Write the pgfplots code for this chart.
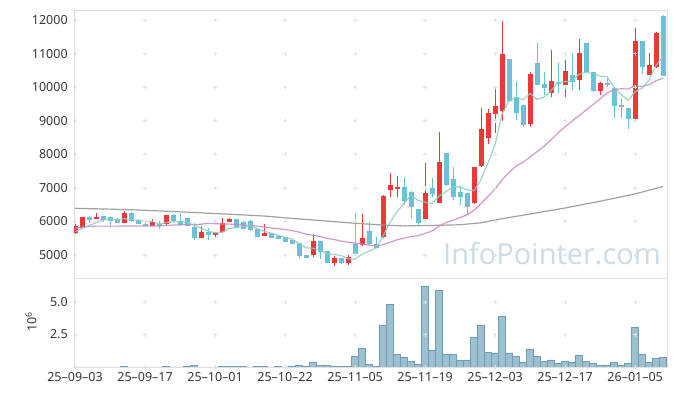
\documentclass[border=0pt]{standalone}
\usepackage{fontspec}
\setmainfont{Noto Sans}
\newfontfamily\wmfont{Open Sans}
\usepackage{pgfplots}
\usepackage{pgfplotstable}
\pgfplotsset{compat=1.18}

\definecolor{cUp}{RGB}{238,56,56}
\definecolor{cDn}{RGB}{108,193,215}
\definecolor{cMAa}{RGB}{140,204,192}
\definecolor{cMAb}{RGB}{200,135,196}
\definecolor{cMAc}{RGB}{150,150,150}
\definecolor{cVol}{RGB}{152,189,206}
\definecolor{cVolE}{RGB}{112,157,182}
\definecolor{cAxis}{RGB}{224,224,224}
\definecolor{cGrid}{RGB}{226,226,226}
\definecolor{cWm}{RGB}{204,219,229}
\definecolor{cTxt}{RGB}{55,55,55}

% up (red) candles: i open high low close
\pgfplotstableread{
i o h l c
0 5645 5913 5615 5863
1 5794 6142 5794 6122
3 6072 6241 6072 6132
7 5963 6310 5963 6241
11 5863 6062 5863 5993
13 5913 6191 5893 6191
18 5516 5873 5516 5675
20 5595 5675 5546 5645
21 5675 6092 5645 5943
22 5993 6092 5993 6072
27 5576 5913 5576 5665
34 4999 5615 4950 5417
37 4751 4970 4672 4900
39 4771 4999 4702 4950
41 5297 6221 5278 5516
44 5546 6780 5496 6757
45 6936 7452 6717 7085
46 6975 7353 6737 7035
50 6062 7750 6022 6836
52 6558 8673 6538 7760
57 6538 7631 6518 7631
58 7661 9388 7631 8753
59 8495 9349 8306 9219
60 9200 9964 8644 9438
61 9299 11980 9001 10987
65 8902 10461 8803 10391
68 9815 11106 9716 10183
70 10064 10809 9696 10481
72 10213 11424 9915 11007
75 9895 10163 9766 10114
80 9051 11752 8972 11374
82 10362 11027 10362 10660
83 10610 11653 10560 11603
}\upT

% down (blue) candles
\pgfplotstableread{
i o h l c
2 6132 6171 5953 6052
4 6161 6161 5993 6052
5 6132 6142 5873 6012
6 6072 6092 5943 5963
8 6241 6271 5993 6012
9 6042 6062 5913 5913
10 5923 6012 5863 5863
12 5913 6012 5764 5863
14 6191 6211 5993 6012
15 6012 6241 5873 5893
16 6092 6092 5873 5873
17 5844 5943 5446 5516
19 5695 5794 5446 5595
23 6072 6072 5794 5814
24 5993 6012 5764 5764
25 6012 6042 5714 5744
26 5764 5764 5546 5546
28 5665 5665 5516 5516
29 5566 5566 5476 5476
30 5526 5526 5397 5397
31 5446 5446 5317 5317
32 5347 5347 4900 4980
33 4999 4999 4900 4900
35 5417 5417 4880 5099
36 5119 5119 4751 4751
38 4900 4920 4722 4751
40 5327 6241 4980 5019
42 5714 5993 5297 5327
43 5317 5546 5198 5218
47 7015 7313 6489 6618
48 6886 6920 6092 6419
49 6360 6360 5893 5963
51 6986 7283 6737 6817
53 8028 8028 7055 7085
54 7254 7631 6638 6717
55 6886 7055 6489 6737
56 6836 6836 6221 6419
62 10828 10828 9567 9597
63 9696 10193 9021 9220
64 9468 9468 8823 8872
66 10729 11305 10064 10064
67 10094 10461 9766 9984
69 10163 10729 9815 10094
71 10362 11007 9915 10163
73 11325 11325 10461 10461
74 10461 10461 9865 9895
76 10114 10263 10015 10054
77 9964 10014 9071 9438
78 9468 9666 9071 9398
79 9369 9369 8753 9041
81 11374 11374 10400 10590
84 12119 12150 10332 10332
}\dnT

% moving averages
\pgfplotstableread{
i a b
0 5695 5800
1 5790 5830
2 5880 5850
3 5960 5860
4 6044 5860
5 6074 5860
6 6042 5860
7 6080 5862
8 6056 5862
9 6028 5862
10 5998 5862
11 6004 5865
12 5929 5862
13 5965 5880
14 5984 5890
15 5990 5895
16 5966 5900
17 5897 5902
18 5794 5915
19 5710 5942
20 5661 5931
21 5675 5922
22 5786 5923
23 5814 5907
24 5848 5893
25 5867 5879
26 5788 5858
27 5707 5830
28 5647 5805
29 5589 5783
30 5520 5760
31 5474 5726
32 5337 5682
33 5214 5617
34 5202 5587
35 5143 5548
36 5029 5492
37 5013 5461
38 4984 5415
39 4890 5382
40 4874 5351
41 5027 5330
42 5113 5292
43 5206 5263
44 5567 5312
45 5981 5379
46 6284 5454
47 6543 5501
48 6783 5547
49 6624 5571
50 6574 5643
51 6531 5718
52 6759 5857
53 6892 5966
54 7043 6031
55 7023 6113
56 6944 6196
57 6918 6333
58 7251 6533
59 7752 6747
60 8292 6968
61 9206 7241
62 9599 7455
63 9692 7655
64 9623 7760
65 9813 7926
66 9629 8077
67 9706 8245
68 9899 8434
69 10143 8640
70 10161 8822
71 10181 8990
72 10386 9152
73 10441 9321
74 10401 9480
75 10328 9649
76 10306 9830
77 9992 9921
78 9780 9953
79 9609 9944
80 9861 10041
81 9968 10021
82 10213 10074
83 10654 10193
84 10912 10266
}\maT

\pgfplotstableread{
i v
0 6390
5 6365
9 6340
15 6285
22 6215
27 6160
31 6090
36 6010
40 5945
44 5890
47 5865
51 5880
55 5900
58 5960
61 6080
65 6220
70 6400
75 6600
80 6820
84 7040
}\mcT

% volume (millions)
\pgfplotstableread{
i v
0 0.01
1 0.01
2 0.01
3 0.01
4 0.01
5 0.01
6 0.01
7 0.06
8 0.01
9 0.01
10 0.01
11 0.01
12 0.01
13 0.06
14 0.01
15 0.01
16 0.06
17 0.13
18 0.01
19 0.01
20 0.01
21 0.05
22 0.05
23 0.05
24 0.05
25 0.01
26 0.05
27 0.05
28 0.01
29 0.05
30 0.01
31 0.05
32 0.13
33 0.05
34 0.36
35 0.15
36 0.15
37 0.05
38 0.05
39 0.05
40 0.84
41 1.43
42 0.20
43 0.05
44 3.20
45 4.84
46 0.97
47 0.74
48 0.44
49 0.20
50 6.22
51 1.30
52 5.91
53 0.97
54 0.97
55 0.54
56 0.54
57 2.28
58 3.20
59 1.15
60 1.08
61 3.92
62 1.08
63 0.79
64 0.38
65 1.36
66 0.84
67 0.46
68 0.54
69 0.28
70 0.46
71 0.38
72 0.92
73 0.46
74 0.28
75 0.13
76 0.13
77 0.38
78 0.15
79 0.28
80 3.05
81 0.97
82 0.38
83 0.69
84 0.74
}\volT

\pgfplotsset{
  base/.style={
    scale only axis, anchor=south west, width=593pt,
    xmin=-0.15, xmax=84.55,
    axis line style={cAxis, line width=0.8pt},
    major tick length=0pt, tick style={draw=none},
    xtick={0,10,...,80},
    tick label style={font=\fontsize{12.5}{14}\selectfont, text=cTxt},
    yticklabel style={xshift=-2.8pt, /pgf/number format/1000 sep={}},
    xticklabel style={yshift=-2pt},
    /pgf/number format/assume math mode=true,
    scaled y ticks=false,
  },
  candle/.style n args={2}{mark=none, draw=none, forget plot,
    error bars/.cd, y dir=plus, y explicit, error mark=none,
    error bar style={draw=#1, line width=#2}},
}

\begin{document}
\begin{tikzpicture}
\path[use as bounding box] (0,0) rectangle (677pt,396pt);
\node[anchor=base west, inner sep=0, font=\wmfont\fontsize{29}{29}\selectfont, text=cWm] at (443pt,131pt) {InfoPointer.com};

% price panel
\begin{axis}[base, at={(74pt,118pt)}, height=268pt,
  ymin=4314, ymax=12298, ytick={5000,6000,...,12000},
  xticklabels={}]
\pgfplotsinvokeforeach{0,10,...,80}{
  \addplot[only marks, mark=+, mark size=2pt, cGrid, forget plot]
    coordinates {(#1,5000) (#1,6000) (#1,7000) (#1,8000) (#1,9000) (#1,10000) (#1,11000) (#1,12000)};
}
% wicks
\addplot[candle={cUp}{1pt}] table[x=i, y=l, y error expr=\thisrow{h}-\thisrow{l}] {\upT};
\addplot[candle={cDn}{1pt}] table[x=i, y=l, y error expr=\thisrow{h}-\thisrow{l}] {\dnT};
% bodies
\addplot[candle={cUp}{5pt}] table[x=i, y=o, y error expr=\thisrow{c}-\thisrow{o}] {\upT};
\addplot[candle={cDn}{5pt}] table[x=i, y=c, y error expr=\thisrow{o}-\thisrow{c}] {\dnT};
% moving averages
\addplot[cMAc, line width=1.2pt, opacity=0.9, mark=none] table[x=i, y=v] {\mcT};
\addplot[cMAb, line width=1.2pt, opacity=0.85, mark=none] table[x=i, y=b] {\maT};
\addplot[cMAa, line width=1.2pt, opacity=0.85, mark=none] table[x=i, y=a] {\maT};
\end{axis}

% volume panel
\begin{axis}[base, at={(74pt,29pt)}, height=89pt,
  ymin=0, ymax=6.85, ytick={2.5,5}, yticklabels={2.5,5.0},
  xticklabels={25–09–03,25–09–17,25–10–01,25–10–22,25–11–05,25–11–19,25–12–03,25–12–17,26–01–05}]
\pgfplotsinvokeforeach{0,10,...,80}{
  \addplot[only marks, mark=+, mark size=2pt, cGrid, forget plot]
    coordinates {(#1,0) (#1,2.5) (#1,5)};
}
\addplot[ybar, bar width=1, fill=cVol, draw=cVolE, line width=0.6pt, fill opacity=0.95] table[x=i, y=v] {\volT};
\end{axis}
\node[rotate=90, font=\fontsize{12.5}{14}\selectfont, text=cTxt] at (31pt,74pt) {10\textsuperscript{6}};
\end{tikzpicture}
\end{document}
